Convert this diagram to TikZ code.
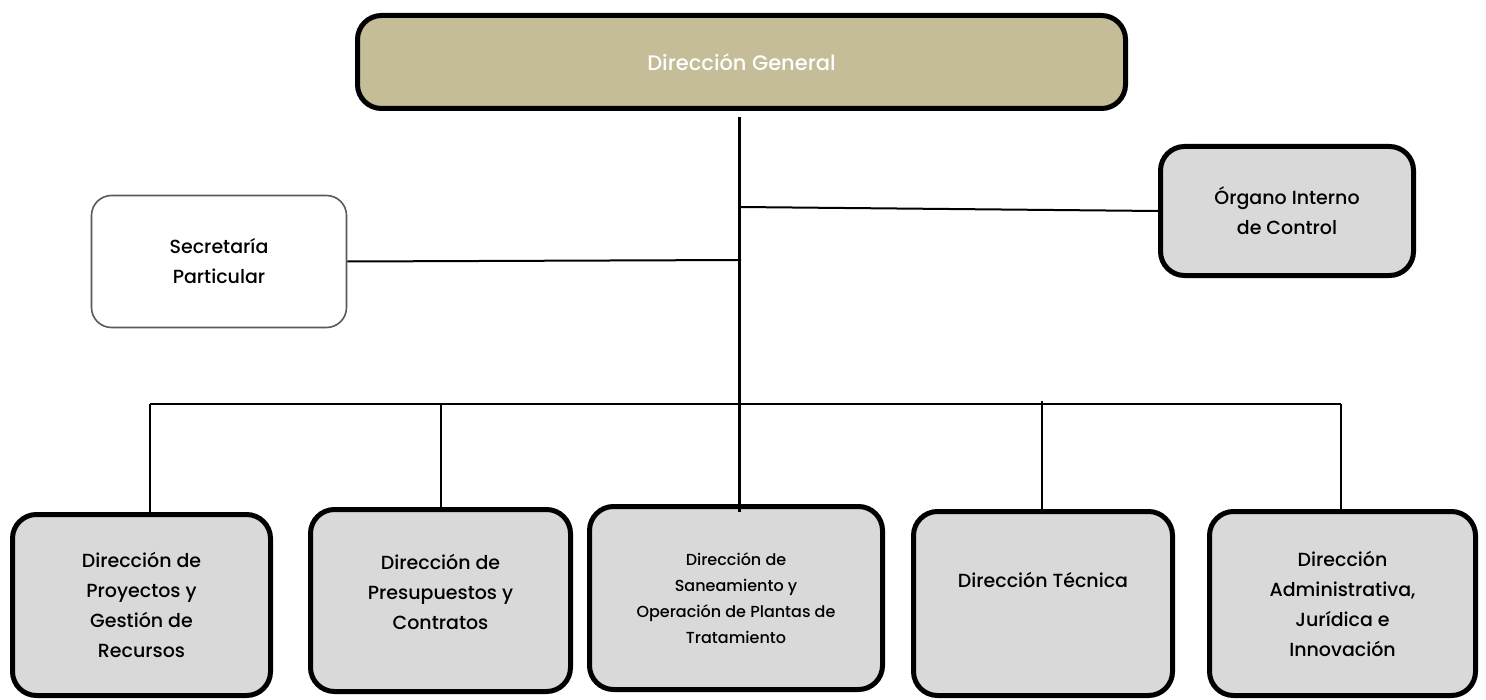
\documentclass[tikz,border=0pt]{standalone}
\usepackage{fontspec}
\setmainfont{Poppins}[UprightFont=* Medium]
\usetikzlibrary{positioning}
\definecolor{caqui}{HTML}{C4BD97}
\definecolor{grisbox}{HTML}{D9D9D9}
\definecolor{grisline}{HTML}{595959}
\begin{document}
\begin{tikzpicture}[x=0.5pt,y=-0.5pt,
	cajon/.style={draw=black,line width=2.5pt,rounded corners=12pt,fill=grisbox,align=center,font=\fontsize{9.5}{15}\selectfont},
	linea/.style={line width=1pt}]
	\useasboundingbox (0,0) rectangle (1486,700);
	\node[cajon,fill=caqui,text=white,minimum width=384pt,minimum height=46.5pt,font=\fontsize{10.5}{15}\selectfont] (dg) at (741.5,62) {Dirección General};
	\node[cajon,draw=grisline,line width=0.8pt,fill=white,rounded corners=10pt,minimum width=127.5pt,minimum height=66pt] (sec) at (219,261.5) {Secretaría\\Particular};
	\node[cajon,minimum width=126.5pt,minimum height=64.5pt] (oic) at (1287,211) {Órgano Interno\\de Control};
	\node[cajon,minimum width=129pt,minimum height=90.5pt,text depth=-5pt] (proy) at (141.5,605) {Dirección de\\Proyectos y\\Gestión de\\Recursos};
	\node[cajon,minimum width=130pt,minimum height=91pt,text depth=9pt] (pres) at (440.5,600.5) {Dirección de\\Presupuestos y\\Contratos};
	\node[cajon,minimum width=146.5pt,minimum height=91.5pt,font=\fontsize{8}{13}\selectfont] (sane) at (736,598) {Dirección de\\Saneamiento y\\Operación de Plantas de\\Tratamiento};
	\node[cajon,minimum width=129.5pt,minimum height=92pt,text depth=24pt] (tec) at (1043,603.5) {Dirección Técnica};
	\node[cajon,minimum width=133pt,minimum height=92pt] (adm) at (1342.5,603.5) {Dirección\\Administrativa,\\Jurídica e\\Innovación};
	\coordinate (tronco) at (739,117);
	\coordinate (s1) at (741,260);
	\coordinate (o1) at (740,207);
	\coordinate (b1) at (150,404);
	\coordinate (b2) at (441,404);
	\coordinate (b4) at (1042,401);
	\coordinate (b5) at (1341,404);
	\draw[line width=1.5pt] (tronco) -- (tronco |- sane.north) -- ++(0,8);
	\draw[linea] (sec.east) -- (s1);
	\draw[linea] (oic.west) -- (o1);
	\draw[linea] (b1) -- (b5);
	\draw[linea] (b1) -- (b1 |- proy.north);
	\draw[linea] (b2) -- (b2 |- pres.north);
	\draw[linea] (b4) -- (b4 |- tec.north);
	\draw[linea] (b5) -- (b5 |- adm.north);
\end{tikzpicture}
\end{document}
